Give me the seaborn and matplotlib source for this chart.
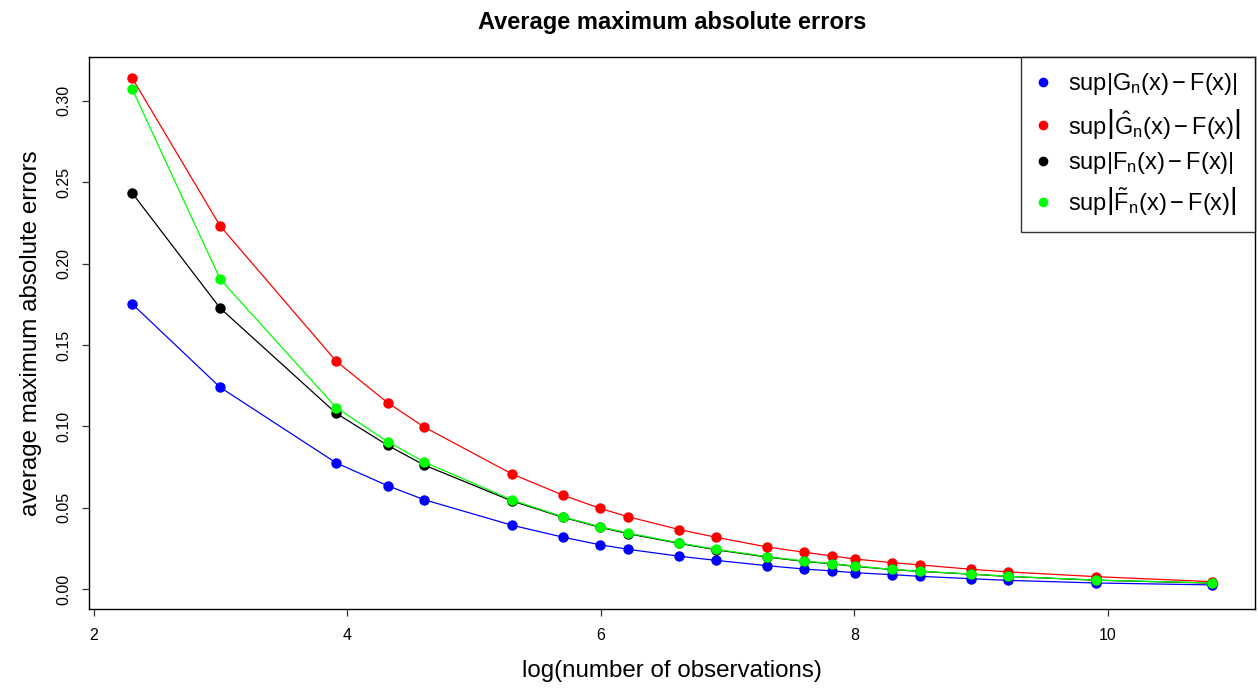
import numpy as np
import pandas as pd
import matplotlib
matplotlib.use("Agg")
import matplotlib.pyplot as plt
from matplotlib.lines import Line2D
import seaborn as sns

# ---- data ----
n_obs = [10, 20, 50, 75, 100, 200, 300, 400, 500, 750, 1000, 1500, 2000,
         2500, 3000, 4000, 5000, 7500, 10000, 20000, 50000]
log_n = list(np.log(n_obs))

err_G = [0.1752, 0.1240, 0.0775, 0.0635, 0.0549, 0.0392, 0.0318, 0.0272, 0.0244,
         0.0201, 0.0176, 0.0143, 0.0123, 0.0111, 0.0100, 0.0088, 0.0078, 0.0063,
         0.0053, 0.0037, 0.0025]
err_Ghat = [0.3141, 0.2232, 0.1400, 0.1145, 0.0996, 0.0707, 0.0576, 0.0496, 0.0444,
            0.0365, 0.0318, 0.0258, 0.0226, 0.0203, 0.0184, 0.0162, 0.0148, 0.0121,
            0.0105, 0.0076, 0.0045]
err_F = [0.2434, 0.1727, 0.1080, 0.0883, 0.0762, 0.0541, 0.0440, 0.0380, 0.0340,
         0.0280, 0.0241, 0.0196, 0.0170, 0.0154, 0.0139, 0.0120, 0.0108, 0.0091,
         0.0077, 0.0054, 0.0036]
err_Ftilde = [0.3074, 0.1906, 0.1115, 0.0906, 0.0781, 0.0547, 0.0443, 0.0383, 0.0344,
              0.0283, 0.0244, 0.0199, 0.0172, 0.0156, 0.0141, 0.0121, 0.0109, 0.0092,
              0.0078, 0.0055, 0.0037]

series_labels = [r'$\sup\left|G_n(x) - F(x)\right|$',
                 r'$\sup\left|\hat{G}_n(x) - F(x)\right|$',
                 r'$\sup\left|F_n(x) - F(x)\right|$',
                 r'$\sup\left|\tilde{F}_n(x) - F(x)\right|$']
series_colors = ['#0000FF', '#FF0000', '#000000', '#00FF00']

title = 'Average maximum absolute errors'
xlabel = 'log(number of observations)'
ylabel = 'average maximum absolute errors'

# ---- style ----
sns.set_style('ticks')
plt.rcParams['font.family'] = ['Liberation Sans', 'DejaVu Sans']
plt.rcParams['mathtext.fontset'] = 'custom'
plt.rcParams['mathtext.rm'] = 'Liberation Sans'
plt.rcParams['mathtext.it'] = 'Liberation Sans'
plt.rcParams['mathtext.bf'] = 'Liberation Sans:bold'
plt.rcParams['text.color'] = 'black'
plt.rcParams['axes.labelcolor'] = 'black'
plt.rcParams['xtick.color'] = 'black'
plt.rcParams['ytick.color'] = 'black'

fig = plt.figure(figsize=(12.58, 6.93), dpi=100)
ax = fig.add_axes([89/1258, 1 - 609/693, (1255 - 89)/1258, (609 - 57)/693])

all_series = [err_G, err_Ghat, err_F, err_Ftilde]
for vals, col in zip(all_series, series_colors):
    df = pd.DataFrame({'x': log_n, 'y': vals})
    sns.lineplot(data=df, x='x', y='y', ax=ax, color=col, linewidth=0.9,
                 marker='o', markersize=7.5, markeredgewidth=0,
                 markeredgecolor=col, estimator=None, sort=False)

ax.set_xlim(1.962, 11.16)
ax.set_ylim(-0.0123, 0.327)
ax.set_xticks([2, 4, 6, 8, 10])
ax.set_xticklabels(['2', '4', '6', '8', '10'])
ax.set_yticks([0.0, 0.05, 0.10, 0.15, 0.20, 0.25, 0.30])
ax.set_yticklabels(['0.00', '0.05', '0.10', '0.15', '0.20', '0.25', '0.30'],
                   rotation=90, va='center')

for sp in ax.spines.values():
    sp.set_visible(True)
    sp.set_color('black')
    sp.set_linewidth(1.0)

ax.tick_params(axis='both', direction='out', length=5, width=0.9, color='#333333',
               labelsize=11.5, labelcolor='black')
ax.tick_params(axis='x', pad=9)
ax.tick_params(axis='y', pad=8)

ax.set_xlabel(xlabel, fontsize=17.4, labelpad=12)
ax.set_ylabel(ylabel, fontsize=17.4, labelpad=10)
ax.set_title(title, fontsize=17, fontweight='bold', pad=20)

handles = [Line2D([0], [0], linestyle='none', marker='o', markersize=7,
                  markerfacecolor=c, markeredgewidth=0) for c in series_colors]
leg = ax.legend(handles, series_labels, loc='upper right', borderaxespad=0,
                frameon=True, fancybox=False, fontsize=17, handletextpad=0.7,
                handlelength=0.7, labelspacing=0.4, borderpad=0.6)
leg.get_frame().set_edgecolor('black')
leg.get_frame().set_linewidth(1.0)

fig.savefig('out.png', dpi=100)
